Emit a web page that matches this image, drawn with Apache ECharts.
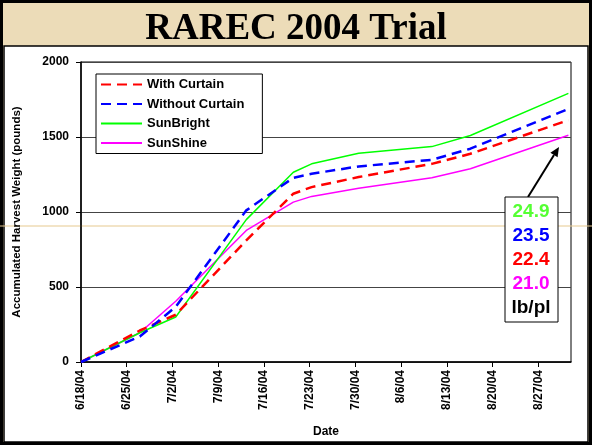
<!DOCTYPE html>
<html>
<head>
<meta charset="utf-8">
<script src="https://cdn.jsdelivr.net/npm/echarts@6/dist/echarts.min.js"></script>
<style>
  html, body { margin: 0; padding: 0; }
  #main { width: 592px; height: 445px; }
</style>
</head>
<body>
<div id="main"></div>
<script>
// days after 6/18/04 for each harvest
var harvestDays = [0, 9, 14.5, 25.3, 32.5, 35.3, 42.5, 53.7, 59.6, 74.6];
var withCurtain = [0, 210, 315, 811, 1122, 1166, 1233, 1321, 1388, 1612];
var withoutCurtain = [0, 170, 368, 1011, 1228, 1255, 1304, 1348, 1422, 1687];
var sunBright = [0, 195, 300, 949, 1265, 1321, 1392, 1436, 1510, 1791];
var sunShine = [0, 195, 405, 877, 1066, 1104, 1158, 1228, 1288, 1512];

var yieldLabels = ['24.9', '23.5', '22.4', '21.0', 'lb/pl'];
var yieldColors = ['#55ff33', '#0000ff', '#ff0000', '#ff00ff', '#000000'];

var startDate = Date.UTC(2004, 5, 18);

function pairs(vals) {
    return harvestDays.map(function (d, i) { return [d, vals[i]]; });
}

function dayLabel(v) {
    var dt = new Date(startDate + v * 86400000);
    return (dt.getUTCMonth() + 1) + '/' + dt.getUTCDate() + '/04';
}

var myChart = echarts.init(document.getElementById('main'));

var font = 'Liberation Sans, Arial, sans-serif';

// yield box on the right
var boxItems = [{
    type: 'rect',
    shape: { x: 505, y: 197, width: 53, height: 125 },
    style: { fill: '#fff', stroke: '#000', lineWidth: 1 },
    z: 100
}];
yieldLabels.forEach(function (t, i) {
    boxItems.push({
        type: 'text',
        x: 531, y: 212 + i * 24,
        style: {
            text: t, fill: yieldColors[i], align: 'center', verticalAlign: 'middle',
            font: 'bold 19px ' + font
        },
        z: 101
    });
});

option = {
    backgroundColor: '#ecdcb8',
    animation: false,
    title: {
        text: 'RAREC 2004 Trial',
        left: 'center',
        top: 6,
        textStyle: { fontFamily: 'Liberation Serif, Times New Roman, serif', fontWeight: 'bold', fontSize: 37, color: '#000' }
    },
    graphic: [
        { type: 'rect', shape: { x: 1.5, y: 1.5, width: 589, height: 442 }, style: { fill: null, stroke: '#000', lineWidth: 3 }, z: -1 },
        { type: 'rect', shape: { x: 4, y: 46, width: 584, height: 396 }, style: { fill: '#fff', stroke: '#000', lineWidth: 1.5 }, z: -1 },
        { type: 'line', shape: { x1: 0, y1: 226, x2: 592, y2: 226 }, style: { stroke: '#e6c98f', lineWidth: 1 }, z: 0 },
        { type: 'line', shape: { x1: 528, y1: 197, x2: 554, y2: 155 }, style: { stroke: '#000', lineWidth: 2 }, z: 100 },
        { type: 'polygon', shape: { points: [[559, 147], [557.6, 157.2], [550.4, 152.7]] }, style: { fill: '#000' }, z: 100 }
    ].concat(boxItems),
    legend: {
        orient: 'vertical',
        left: 96,
        top: 74,
        padding: [4, 18, 4, 4],
        itemWidth: 41,
        itemHeight: 14,
        itemGap: 6.5,
        backgroundColor: '#fff',
        borderColor: '#000',
        borderWidth: 1,
        itemStyle: { opacity: 0 },
        textStyle: { fontFamily: font, fontWeight: 'bold', fontSize: 13, color: '#000' },
        data: ['With Curtain', 'Without Curtain', 'SunBright', 'SunShine']
    },
    grid: {
        left: 81, right: 21, top: 62, bottom: 83,
        show: true, borderColor: '#000', borderWidth: 1
    },
    xAxis: {
        type: 'value',
        min: 0, max: 75, interval: 7,
        name: 'Date',
        nameLocation: 'middle',
        nameGap: 64,
        nameTextStyle: { fontFamily: font, fontWeight: 'bold', fontSize: 12, color: '#000' },
        axisLine: { lineStyle: { color: '#000', width: 1.5 } },
        axisTick: { length: 5, lineStyle: { color: '#000' } },
        splitLine: { show: false },
        axisLabel: {
            rotate: 90, margin: 8, showMaxLabel: false,
            fontFamily: font, fontWeight: 'bold', fontSize: 12, color: '#000',
            formatter: dayLabel
        }
    },
    yAxis: {
        type: 'value',
        min: 0, max: 2000, interval: 500,
        name: 'Accumulated Harvest Weight (pounds)',
        nameLocation: 'middle',
        nameGap: 58,
        nameTextStyle: { fontFamily: font, fontWeight: 'bold', fontSize: 11.5, color: '#000' },
        axisLine: { show: true, lineStyle: { color: '#000', width: 1.5 } },
        axisTick: { show: true, length: 5, lineStyle: { color: '#000' } },
        splitLine: { lineStyle: { color: '#444', width: 1 } },
        axisLabel: {
            margin: 12, fontFamily: font, fontWeight: 'bold', fontSize: 12, color: '#000',
            formatter: function (v) { return String(v); }
        }
    },
    series: [
        { name: 'SunShine', type: 'line', symbol: 'none', data: pairs(sunShine), color: '#ff00ff', lineStyle: { width: 1.5 } },
        { name: 'SunBright', type: 'line', symbol: 'none', data: pairs(sunBright), color: '#00ff00', lineStyle: { width: 1.5 } },
        { name: 'With Curtain', type: 'line', symbol: 'none', data: pairs(withCurtain), color: '#ff0000', lineStyle: { width: 2.5, type: [10, 6] } },
        { name: 'Without Curtain', type: 'line', symbol: 'none', data: pairs(withoutCurtain), color: '#0000ff', lineStyle: { width: 2.5, type: [10, 6] } }
    ]
};

myChart.setOption(option);
</script>
</body>
</html>
